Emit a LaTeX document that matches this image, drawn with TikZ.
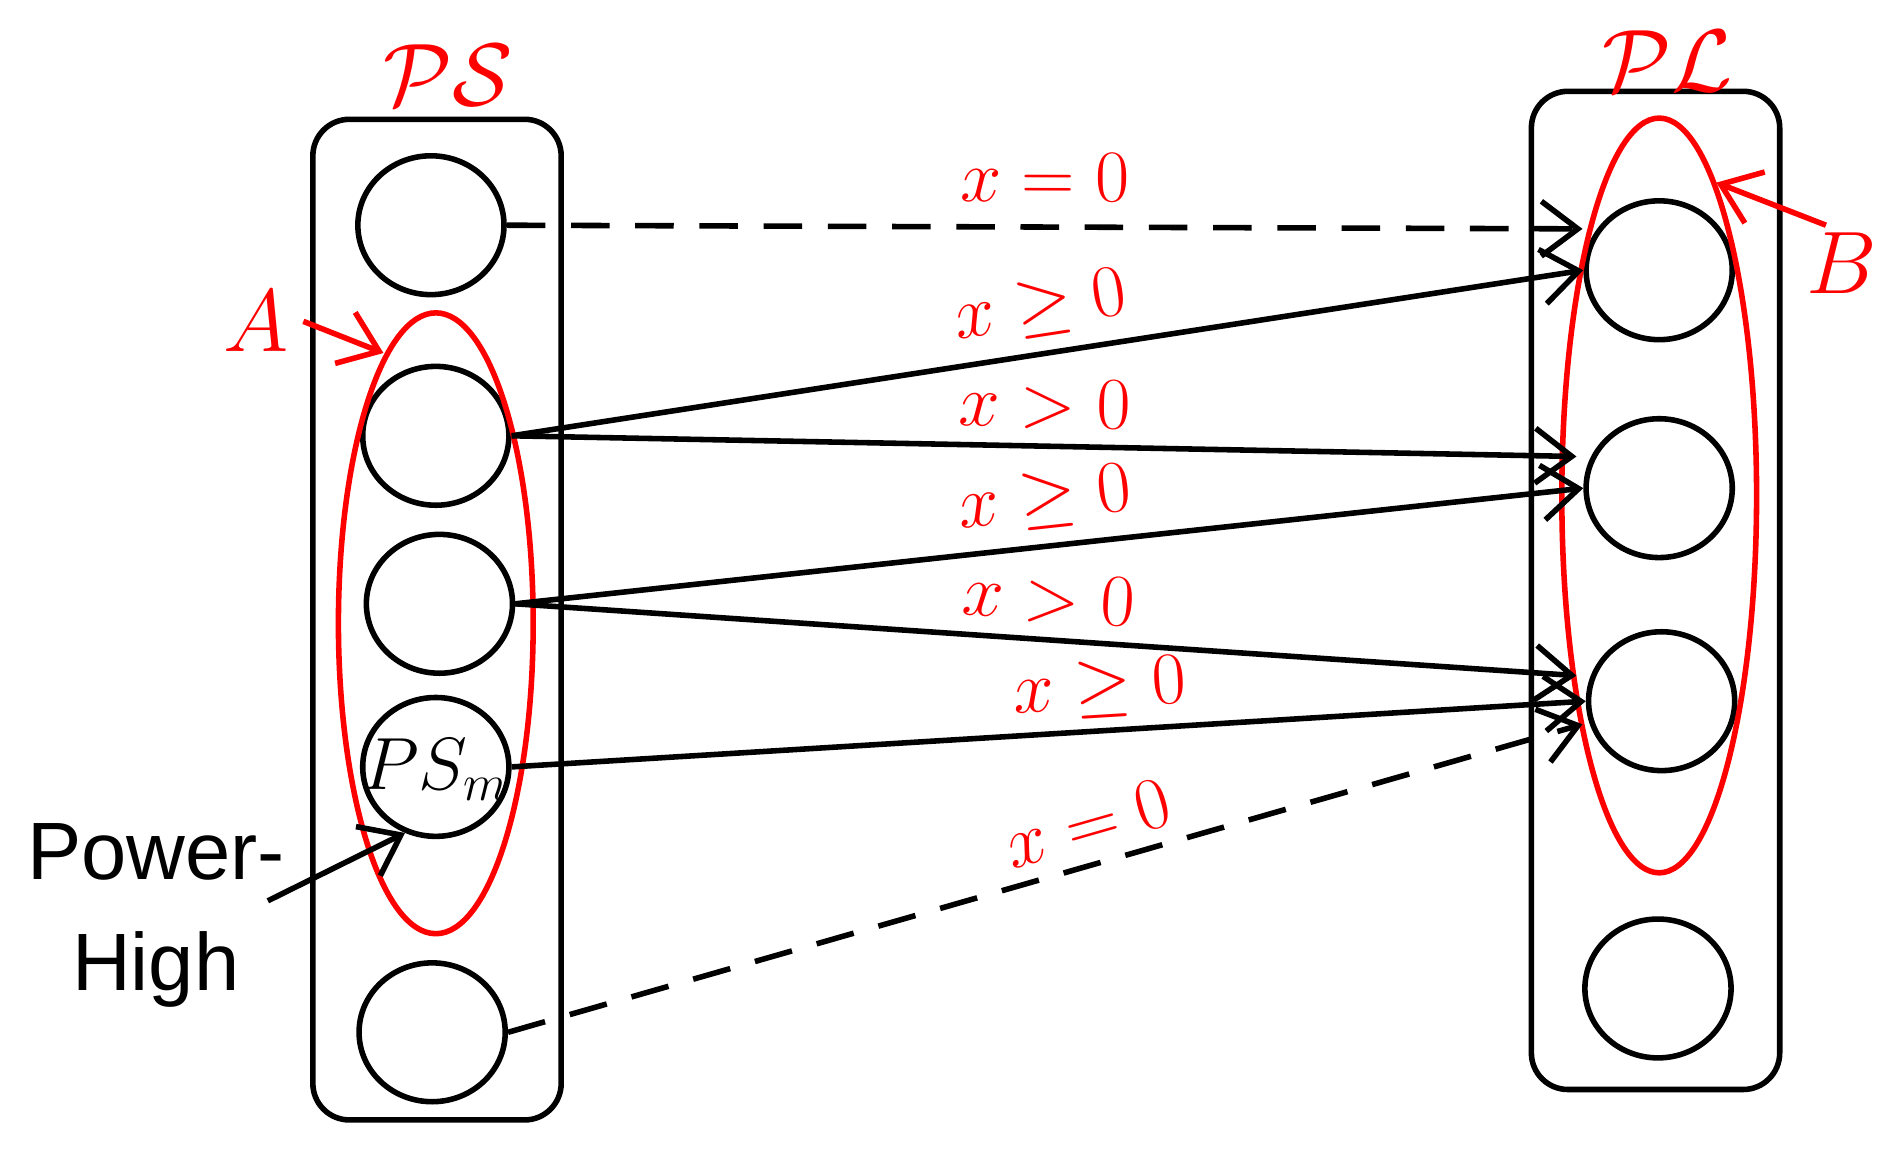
\documentclass[tikz,border=0pt]{standalone}
\usepackage{fontspec}
\usetikzlibrary{arrows.meta}
\tikzset{
  nd/.style={draw, line width=1.3pt, ellipse, minimum width=1.2cm, minimum height=1.14cm, inner sep=0pt},
  grp/.style={draw, line width=1.3pt, rounded corners=0.3cm},
  lnk/.style={line width=1.3pt, -{Straight Barb[length=3mm,width=4.5mm,line width=1.3pt]}},
  dsh/.style={dash pattern=on 9pt off 6pt},
  lbl/.style={red, font=\fontsize{18}{20}\selectfont},
}
\usetikzlibrary{shapes.geometric}
\begin{document}
\begin{tikzpicture}[x=0.01cm,y=-0.01cm]
	\useasboundingbox (0,0) rectangle (1560,960);
	% conjuntos ---------------------------------------------
	\draw[grp] (257,98) rectangle (461,920);
	\draw[grp] (1258,75) rectangle (1462,895);
	\node[red, font=\fontsize{22}{24}\selectfont] (ps) at (368,62) {$\mathcal{PS}$};
	\node[red, font=\fontsize{22}{24}\selectfont] (pl) at (1370,50) {$\mathcal{PL}$};

	% nodos izquierda
	\node[nd] (s1) at (354,185) {};
	\node[nd] (s2) at (358,358) {};
	\node[nd] (s3) at (361,496) {};
	\node[nd] (s4) at (358,630) {};
	\node[font=\fontsize{18}{20}\selectfont, inner sep=0pt] (psm) at (358,632) {$PS_m$};
	\node[nd] (s5) at (355,848) {};
	% nodos derecha
	\node[nd] (l1) at (1363,222) {};
	\node[nd] (l2) at (1363,401) {};
	\node[nd] (l3) at (1365,576) {};
	\node[nd] (l4) at (1362,812) {};

	% subconjuntos A y B
	\draw[red, line width=1.3pt] (358,512) ellipse (80 and 255);
	\draw[red, line width=1.3pt] (1363,407) ellipse (80 and 310);

	% enlaces ---------------------------------------------
	\draw[lnk, dsh] (s1.east) -- (1300,188) node[lbl, pos=0.5, above=2pt, sloped] {$x=0$};
	\draw[lnk] (s2.east) -- (l1.west) node[lbl, pos=0.5, above, sloped] {$x\geq 0$};
	\draw[lnk] (s2.east) -- (1295,375) node[lbl, pos=0.5, above, sloped] {$x>0$};
	\draw[lnk] (s3.east) -- (l2.west) node[lbl, pos=0.5, above, sloped] {$x\geq 0$};
	\draw[lnk] (s3.east) -- (1295,555) node[lbl, pos=0.5, above, sloped] {$x>0$};
	\draw[lnk] (s4.east) -- (l3.west) node[lbl, pos=0.55, above=-1pt, sloped] {$x\geq 0$};
	\draw[lnk, dsh] (s5.east) -- (1300,595) node[lbl, pos=0.55, above, sloped] {$x=0$};

	% etiquetas A, B y Power-High
	\node[lbl, font=\fontsize{21}{23}\selectfont] (a) at (210,264) {$A$};
	\draw[red, lnk] (a.east) -- (315,290);
	\node[lbl, font=\fontsize{21}{23}\selectfont] (b) at (1513,216) {$B$};
	\draw[red, lnk] (1500,185) -- (1410,150);
	\node[align=center, font=\fontsize{19}{26}\selectfont\fontspec{Liberation Sans}] (ph) at (128,752) {Power-\\High};
	\draw[lnk] (220,740) -- (s4.-115);
\end{tikzpicture}
\end{document}
